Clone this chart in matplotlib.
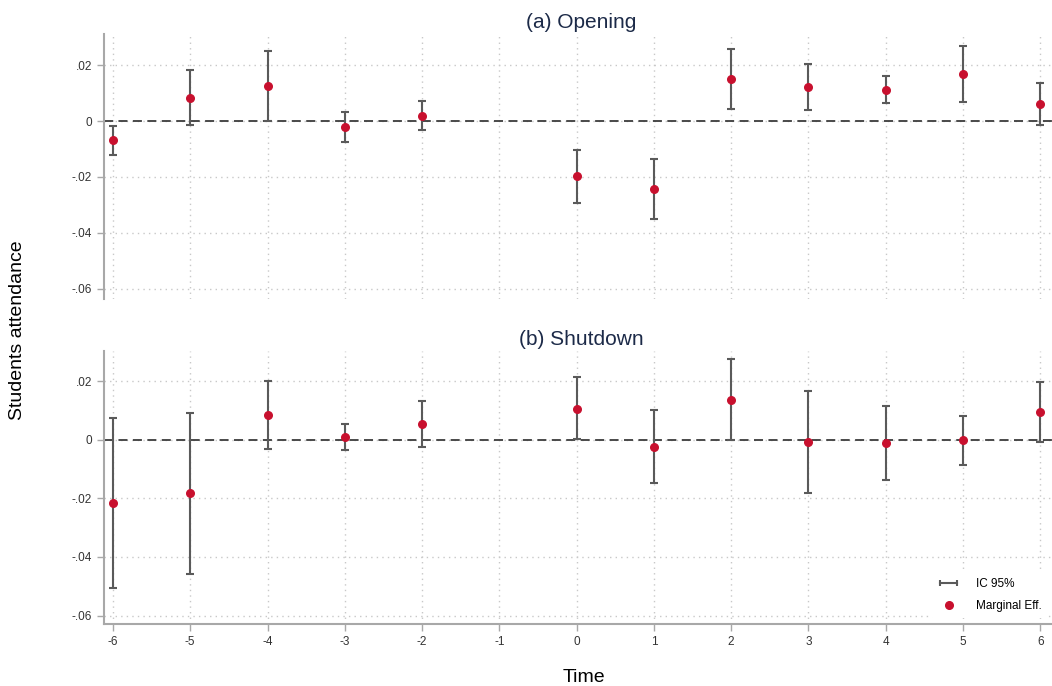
import matplotlib
matplotlib.use("Agg")
import matplotlib.pyplot as plt
from matplotlib.lines import Line2D
from matplotlib.legend_handler import HandlerLine2D

plt.rcParams['font.family'] = ['Liberation Sans', 'DejaVu Sans']
plt.rcParams['axes.unicode_minus'] = False

# Data
periods = [-6, -5, -4, -3, -2, 0, 1, 2, 3, 4, 5, 6]

open_eff = [-0.0069, 0.0083, 0.0125, -0.0021, 0.0019, -0.0198, -0.0243, 0.0150, 0.0120, 0.0112, 0.0168, 0.0060]
open_lo = [-0.0121, -0.0014, 0.0001, -0.0074, -0.0032, -0.0292, -0.0350, 0.0043, 0.0038, 0.0064, 0.0069, -0.0015]
open_hi = [-0.0017, 0.0182, 0.0251, 0.0031, 0.0071, -0.0102, -0.0135, 0.0257, 0.0204, 0.0160, 0.0267, 0.0136]

shut_eff = [-0.0216, -0.0183, 0.0083, 0.0009, 0.0053, 0.0106, -0.0024, 0.0136, -0.0008, -0.0011, -0.0002, 0.0094]
shut_lo = [-0.0505, -0.0457, -0.0033, -0.0035, -0.0026, 0.0002, -0.0149, -0.0001, -0.0181, -0.0138, -0.0087, -0.0008]
shut_hi = [0.0073, 0.0093, 0.0201, 0.0055, 0.0133, 0.0213, 0.0102, 0.0275, 0.0166, 0.0115, 0.0082, 0.0197]

xticks = list(range(-6, 7))
yticks = [0.02, 0, -0.02, -0.04, -0.06]
ytick_labels = ['.02', '0', '-.02', '-.04', '-.06']

W, H = 1052, 686
fig = plt.figure(figsize=(W / 100, H / 100), dpi=100)

left = 103.7 / W
width = (1058 - 103.7) / W
ax1 = fig.add_axes([left, 1 - 299 / H, width, (299 - 34) / H])
ax2 = fig.add_axes([left, 1 - 624.3 / H, width, (624.3 - 350.7) / H])

marker_color = '#c8102e'
bar_color = '#5a5a5a'
spine_color = '#a8a8a8'

panels = [
    (ax1, open_eff, open_lo, open_hi, '(a) Opening', (-0.0636, 0.0311)),
    (ax2, shut_eff, shut_lo, shut_hi, '(b) Shutdown', (-0.0630, 0.0304)),
]

for ax, eff, lo, hi, title, ylim in panels:
    yerr = [[e - l for e, l in zip(eff, lo)], [h - e for e, h in zip(eff, hi)]]
    ax.errorbar(periods, eff, yerr=yerr, fmt='none', ecolor=bar_color,
                elinewidth=1.5, capsize=3, capthick=1.5, zorder=3)
    ax.scatter(periods, eff, s=30, color=marker_color, zorder=4)
    ax.axhline(0, color='#3c3c3c', linestyle=(0, (5, 3)), linewidth=1.3, zorder=2)

    ax.set_xlim(-6.12, 6.23)
    ax.set_ylim(*ylim)
    ax.set_xticks(xticks)
    ax.set_yticks(yticks)
    ax.set_yticklabels(ytick_labels)
    ax.grid(True, color='#c8c8c8', linestyle=(0, (1, 3)), linewidth=1)
    ax.set_axisbelow(True)

    for s in ['top', 'right']:
        ax.spines[s].set_visible(False)
    ax.spines['left'].set_color(spine_color)
    ax.spines['left'].set_linewidth(1.5)
    ax.spines['bottom'].set_color(spine_color)
    ax.spines['bottom'].set_linewidth(1.5)
    ax.tick_params(colors=spine_color, labelcolor='#333333', labelsize=8.5,
                   length=5, width=1)
    ax.set_title(title, fontsize=15, color='#1c2a48', pad=4)

ax1.spines['bottom'].set_visible(False)
ax1.tick_params(axis='x', bottom=False, labelbottom=False)

ci_handle = Line2D([0], [0], color=bar_color, lw=1.5, marker='|', markersize=5,
                   markeredgewidth=1.5)
dot_handle = Line2D([0], [0], color=marker_color, lw=0, marker='o', markersize=5.5)
ax2.legend([ci_handle, dot_handle], ['IC 95%', 'Marginal Eff.'], loc='lower right',
           bbox_to_anchor=(0.995, 0.0), frameon=True, facecolor='white',
           edgecolor='none', framealpha=1, fontsize=8.5, handlelength=2.0,
           handletextpad=1.3, labelspacing=0.9, borderpad=0.5,
           handler_map={ci_handle: HandlerLine2D(numpoints=2)})

fig.text(18 / W, 1 - 330 / H, 'Students attendance', rotation=90,
         ha='center', va='center', fontsize=14)
fig.text(584 / W, 1 - 677 / H, 'Time', ha='center', va='center', fontsize=14)

fig.savefig('out.png', dpi=100)
